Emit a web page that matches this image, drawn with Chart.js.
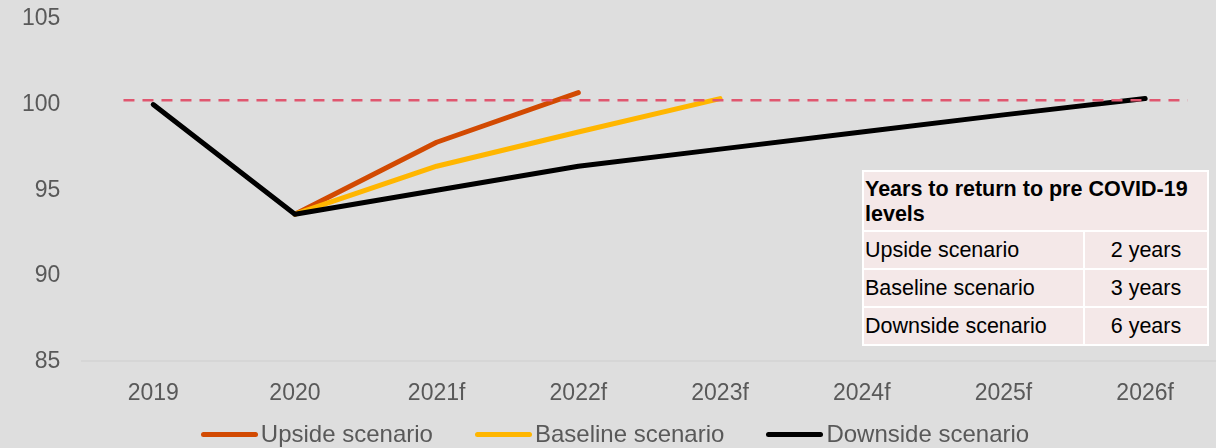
<!DOCTYPE html>
<html>
<head>
<meta charset="utf-8">
<script src="https://cdn.jsdelivr.net/npm/chart.js@4"></script>
<style>
  html, body { margin: 0; padding: 0; background: #dedede; }
  #wrap { position: relative; width: 1216px; height: 448px; background: #dedede; font-family: "Liberation Sans", Arial, sans-serif; }
  #chart { position: absolute; left: 0; top: 0; }
  #legend { position: absolute; left: 0; top: 420px; width: 1216px; display: flex; justify-content: center; padding-left: 14px; box-sizing: border-box; }
  .item { display: flex; align-items: center; margin-right: 42px; font-size: 24px; color: #595959; }
  .item:last-child { margin-right: 0; }
  .swatch { width: 57px; height: 5px; border-radius: 3px; margin-right: 3px; }
  #box { position: absolute; left: 862px; top: 170px; border-collapse: collapse; background: #f4e8e8; font-size: 21.5px; color: #000; }
  #box td { border: 2px solid #fff; padding: 0 1px; height: 36px; }
  #box td.head { font-weight: bold; height: 56px; line-height: 25px; padding-top: 2px; }
  #box td.num { text-align: center; width: 120px; }
  #box td.name { width: 217px; }
</style>
</head>
<body>
<div id="wrap">
  <canvas id="chart" width="1216" height="448"></canvas>
  <div id="legend"></div>
  <table id="box"></table>
</div>
<script>
const categories = ['2019', '2020', '2021f', '2022f', '2023f', '2024f', '2025f', '2026f'];
const upside   = [null, 93.6, 97.8, 100.7, null, null, null, null];
const baseline = [null, 93.6, 96.4, 98.4, 100.35, null, null, null];
const downside = [100.0, 93.6, 95.0, 96.4, 97.4, 98.4, 99.4, 100.35];
const preCovidLevel = 100.25;
const preCovidSpan = [-0.21, 7.3];

const seriesNames = ['Upside scenario', 'Baseline scenario', 'Downside scenario'];
const seriesColors = ['#d24a02', '#ffb600', '#000000'];

const tableTitle = 'Years to return to pre COVID-19 levels';
const tableYears = ['2 years', '3 years', '6 years'];

const TEXT = '#595959';
const FONT = '"Liberation Sans", Arial, sans-serif';

function toPoints(values) {
  return values
    .map((v, i) => (v === null ? null : { x: i, y: v }))
    .filter(p => p !== null);
}

const scenarioSets = [upside, baseline, downside].map((vals, i) => ({
  label: seriesNames[i],
  data: toPoints(vals),
  borderColor: seriesColors[i],
  backgroundColor: seriesColors[i],
  borderWidth: 5,
  borderCapStyle: 'round',
  borderJoinStyle: 'round',
  pointRadius: 0,
  tension: 0,
  order: 3 - i
}));

const refLine = {
  label: 'pre COVID-19',
  data: preCovidSpan.map(x => ({ x, y: preCovidLevel })),
  borderColor: '#e0566f',
  borderWidth: 2.5,
  borderDash: [11, 8],
  pointRadius: 0,
  order: 0
};

new Chart(document.getElementById('chart'), {
  type: 'line',
  data: { datasets: [...scenarioSets, refLine] },
  options: {
    responsive: false,
    animation: false,
    layout: { padding: { top: 19, left: 0, right: 0, bottom: 23 } },
    scales: {
      x: {
        type: 'linear',
        min: -0.5,
        max: 7.5,
        afterBuildTicks: axis => { axis.ticks = categories.map((c, i) => ({ value: i })); },
        grid: { display: false, drawTicks: false },
        border: { display: true, color: '#d6d6d6', width: 2 },
        ticks: {
          padding: 18,
          color: TEXT,
          font: { family: FONT, size: 23 },
          maxRotation: 0,
          callback: v => categories[v]
        }
      },
      y: {
        min: 85,
        max: 105,
        grid: { display: false, drawTicks: false },
        border: { display: false },
        // keep the label overhang from pushing the plot area in
        afterFit: axis => { axis.paddingTop = 0; axis.paddingBottom = 0; },
        ticks: {
          stepSize: 5,
          padding: 22,
          color: TEXT,
          font: { family: FONT, size: 23 }
        }
      }
    },
    plugins: {
      legend: { display: false },
      tooltip: { enabled: false }
    }
  }
});

// legend under the plot
const legend = document.getElementById('legend');
seriesNames.forEach((name, i) => {
  const item = document.createElement('div');
  item.className = 'item';
  item.innerHTML = '<span class="swatch" style="background:' + seriesColors[i] + '"></span>' + name;
  legend.appendChild(item);
});

// summary table
const box = document.getElementById('box');
let html = '<tr><td class="head" colspan="2">' + tableTitle + '</td></tr>';
seriesNames.forEach((name, i) => {
  html += '<tr><td class="name">' + name + '</td><td class="num">' + tableYears[i] + '</td></tr>';
});
box.innerHTML = html;
</script>
</body>
</html>
